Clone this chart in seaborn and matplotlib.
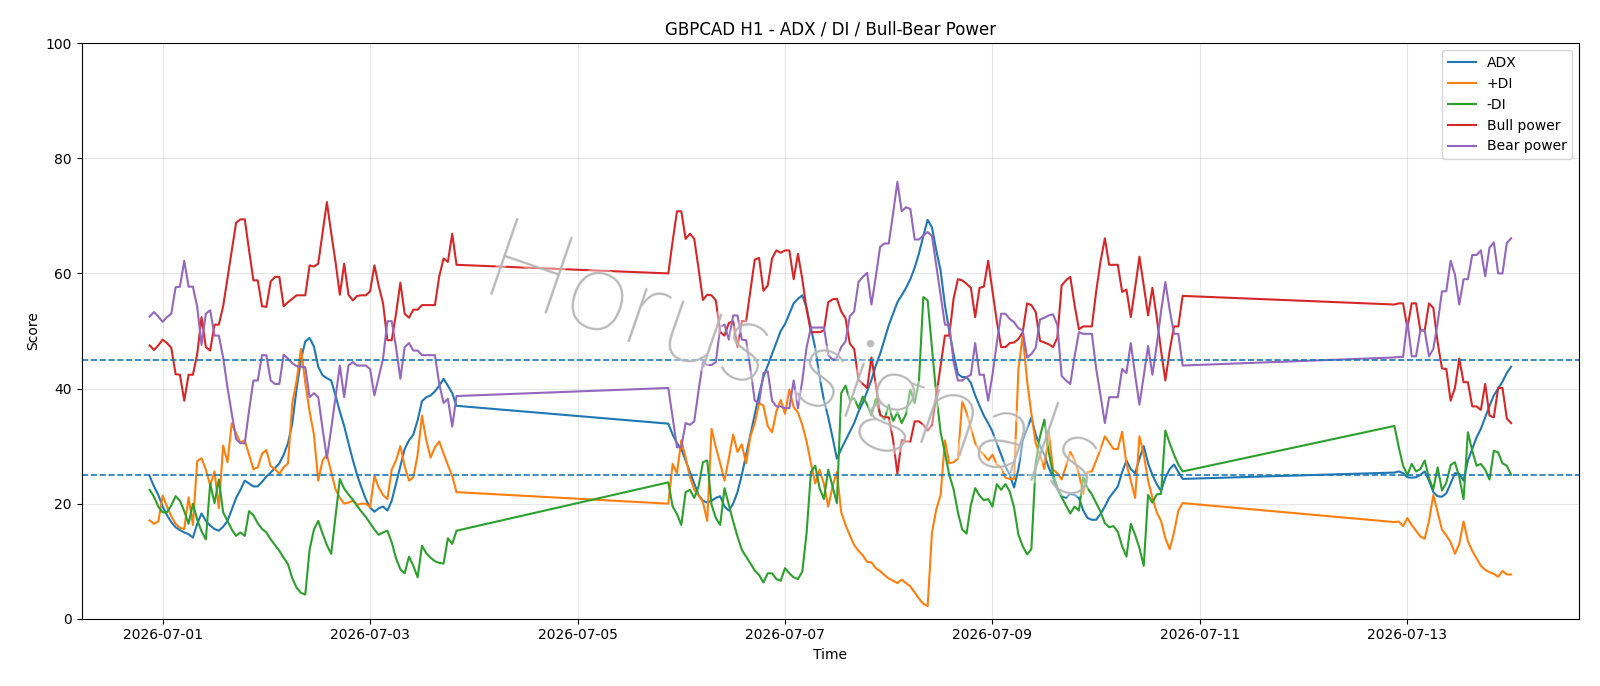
import numpy as np
import pandas as pd
import matplotlib
matplotlib.use("Agg")
import matplotlib.pyplot as plt
import matplotlib.dates as mdates
import matplotlib.patheffects as pe
import seaborn as sns

# ---- data: three hourly trading segments ----
seg_starts = ["2026-06-30 21:00", "2026-07-05 21:00", "2026-07-12 21:00"]
seg_lengths = [72, 120, 28]

adx_1 = [24.8, 23, 21.5, 19.5, 18, 16.8, 15.9, 15.4, 15.0, 14.7, 14.1,
         16.5, 18.3, 17, 16.2, 15.6, 15.3, 16, 17, 19, 21, 22.4, 24,
         23.5, 23, 23, 23.8, 24.7, 25.4, 26.2, 27, 28.5, 30.5,
         34, 40, 45, 48.2, 48.8, 47.3, 43.8, 42.3, 41.8, 41.4,
         38.8, 36, 33.5, 30.5, 27.6, 25, 22.8, 20.8, 19.3, 18.6,
         19.2, 19.5, 18.8, 20.5, 23.5, 26.5, 29.5, 31, 32, 34.5,
         37.8, 38.5, 38.8, 39.5, 40.5, 41.7, 40.5, 39.2, 37]
pdi_1 = [17.1, 16.5, 16.9, 21.4, 19.5, 17.8, 16.5, 15.8, 15.6, 21.1, 16.3,
         27.4, 27.9, 25.9, 23.2, 25.6, 19.2, 30.1, 27.2, 34, 32.2, 30.6, 31,
         28.5, 26, 26.3, 28.7, 29.3, 26.5, 26, 25.2, 26.3, 27,
         37.5, 41.4, 46.9, 41, 36, 32, 24, 27.5, 28.5, 25.5,
         22.5, 21, 20, 20.2, 20.5, 19.8, 20, 20, 19.4, 24.8,
         22.8, 21.5, 20.8, 25.9, 27.5, 30, 26.5, 24, 24.6, 28.5,
         35.3, 31, 28, 29.8, 30.8, 28.7, 26.7, 24.8, 22]
mdi_1 = [22.4, 21.2, 19.5, 18.5, 18.5, 19.7, 21.3, 20.5, 18.7, 16.5, 20,
         17.2, 15.2, 13.8, 23.5, 20.1, 24.2, 18.5, 17, 15.5, 14.4, 15, 14.4,
         18.7, 18, 16.6, 15.6, 15, 13.8, 12.8, 11.8, 10.6, 9.5,
         7, 5.4, 4.5, 4.2, 12, 15.5, 17, 14.8, 12.8, 11.3,
         17.8, 24.3, 22.6, 21.6, 20.7, 19.6, 18.6, 17.7, 16.6, 15.5,
         14.6, 15, 15.3, 13.3, 10.5, 8.6, 7.9, 10.8, 9.2, 7.2,
         12.7, 11.4, 10.6, 10, 9.7, 9.6, 14, 13, 15.3]
bull_1 = [47.5, 46.7, 47.5, 48.5, 47.9, 47.1, 42.5, 42.4, 37.9, 42.4, 42.4,
          46, 52.4, 47.2, 46.6, 51.1, 51.1, 54.3, 59.2, 64, 68.8, 69.4, 69.4,
          64, 58.8, 58.8, 54.3, 54.2, 58.6, 59.4, 59.4, 54.3, 55,
          55.6, 56.2, 56.2, 56.2, 61.4, 61.2, 61.7, 67, 72.4, 67,
          62, 56.3, 61.7, 56.3, 55.3, 56.1, 56.2, 56.2, 56.9, 61.4,
          57.8, 54.8, 48.4, 48.4, 53, 58.4, 53, 52.3, 53.7, 53.7,
          54.5, 54.5, 54.5, 54.5, 59.5, 62.6, 62, 66.9, 61.5]
bear_1 = [52.5, 53.3, 52.5, 51.6, 52.4, 53, 57.6, 57.7, 62.2, 57.7, 57.7,
          54.2, 47.6, 53, 53.6, 49.2, 49.2, 45.4, 40.2, 35.6, 31.2, 30.5, 30.5,
          36.2, 41.4, 41.4, 45.8, 45.8, 41.4, 40.8, 40.8, 45.9, 45.2,
          44.4, 43.9, 43.8, 43.7, 38.5, 39.2, 38.5, 33, 27.9, 33,
          38.5, 44, 38.5, 44, 44.6, 44, 44, 44, 43.4, 38.8,
          42, 45.2, 51.7, 51.7, 47.2, 41.7, 47.2, 47.9, 46.6, 46.6,
          45.8, 45.8, 45.8, 45.8, 40.8, 37.5, 38.2, 33.4, 38.7]

adx_2 = [33.9, 32, 30.5, 29.5, 27.5, 25.5, 23.5, 21.5, 20.5, 20.2,
         20.5, 21, 21.3, 19.5, 18.8, 20, 22, 25, 28.5, 32,
         35.5, 39, 42, 44, 46, 48, 50, 51.2, 53, 54.8,
         55.6, 56.2, 54, 50.5, 47, 42, 38, 35, 31.5, 27.8,
         29.5, 31, 32.5, 34, 36, 37.5, 39.5, 41.5, 44, 46,
         48.5, 51, 53, 55, 56.2, 57.5, 59, 61, 63.5, 66.5,
         69.3, 68, 64, 60.5, 54.5, 50, 46, 42.5, 42, 42,
         41, 38.8, 37, 35.3, 34, 32.5, 30.5, 28.5, 26.5, 25,
         22.8, 26, 31, 33, 35, 32, 30, 28.5, 26.3, 24.5,
         22.5, 21.3, 21, 21.7, 21.5, 21, 18.8, 17.5, 17.2, 17.2,
         18.2, 19.5, 21, 22, 23, 25.5, 27.5, 26, 25.3, 27.8,
         30, 27, 25, 23.4, 22.2, 24.5, 26, 26.8, 25.5, 24.3]
pdi_2 = [20, 26.9, 25.3, 31, 28, 24.6, 22.4, 21.4, 20.3, 17,
         33, 29.8, 27, 24, 27.9, 32, 29, 30.3, 27, 31.7,
         34, 37.5, 37, 33.5, 32.4, 36, 38, 35.6, 39.8, 36.8,
         35.8, 33.7, 30.8, 27, 23.5, 25.9, 23.4, 19.5, 23, 25.5,
         18.5, 16.3, 14.5, 12.8, 11.8, 11, 9.9, 9.8, 8.8, 8.3,
         7.6, 7, 6.6, 6.2, 6.8, 6.2, 5.6, 4.6, 3.5, 2.6,
         2.2, 15, 19, 21.5, 31, 27, 27.2, 27.8, 37.8, 35.8,
         33.2, 30.5, 29.2, 28.5, 27.5, 28.5, 26.8, 26.3, 24.5, 24.3,
         24.3, 43.4, 49.2, 41.4, 35.6, 30.5, 28.5, 26, 32.7, 25.9,
         25.3, 24.2, 26.5, 29, 27.5, 25.2, 21.7, 25.5, 25.6, 27.5,
         29.5, 31.7, 30.6, 29.5, 29.5, 32.5, 26.9, 24, 21, 31.7,
         28.5, 24, 21, 18.5, 17, 14, 12.1, 15, 18.8, 20.1]
mdi_2 = [23.7, 19.5, 18.2, 16.3, 22, 22.4, 21, 23, 27.2, 27.5,
         19.8, 17.5, 16.3, 22.7, 19.8, 16.9, 14.3, 12, 10.8, 9.6,
         8.4, 7.6, 6.3, 7.9, 7.9, 6.9, 6.6, 8.8, 7.9, 7.2,
         6.9, 8.2, 15, 25.5, 26.6, 22.7, 20.8, 25.9, 23, 20.1,
         39.2, 40.5, 38, 38.3, 36.6, 38.6, 37.2, 35.3, 38.2, 35.6,
         34.6, 37.2, 34.3, 35.9, 34, 35.6, 39.8, 37.5, 41.4, 55.9,
         55.3, 47, 39, 32.4, 28.8, 25, 22.5, 18.5, 15.5, 14.8,
         19.8, 22.7, 21.4, 20.6, 20.8, 19.5, 23.4, 22.4, 23.4, 22.1,
         19.3, 14.6, 12.6, 11.2, 12.1, 27, 31.7, 34.6, 29, 25.2,
         22.8, 21.1, 19.7, 18.3, 19.5, 18.8, 24.6, 22.7, 21.6, 20.1,
         18.6, 16.6, 15.9, 16.1, 15.1, 12.6, 10.8, 16.5, 14.6, 12.3,
         9.2, 21.5, 20.2, 21.6, 21.7, 32.7, 30.5, 28.5, 26.8, 25.6]
bull_2 = [60, 65.6, 70.8, 70.8, 66, 66.9, 66, 60.8, 55.4, 56.3,
          56.2, 55.3, 49.8, 49.2, 51.4, 51.7, 47.2, 51.7, 51.7, 57,
          62.4, 62.7, 57, 57.9, 62.6, 64, 63.6, 64, 64, 59,
          63.4, 59, 53.7, 49.8, 49.8, 49.8, 50.1, 55, 55.5, 55.6,
          53.4, 52.2, 47.8, 46.9, 41.5, 40.8, 40.1, 45.4, 40.7, 35.3,
          35, 35, 31.1, 25.2, 31.1, 30.8, 30.8, 34.3, 34.3, 33.7,
          32.7, 33.7, 38.7, 44, 49.2, 49.2, 55.6, 59, 58.8, 58.2,
          57.5, 52.4, 57.5, 57.7, 62.2, 56.9, 51.7, 47.2, 47.2, 47.9,
          48, 48.6, 49.8, 54.8, 54.5, 53.3, 48.3, 48, 47.7, 47.2,
          48.8, 57.9, 58.8, 59.4, 54.5, 50.3, 50.8, 50.8, 50.8, 56.9,
          62.1, 66.1, 61.5, 61.5, 61.5, 56.8, 57.2, 52.4, 57.5, 62.9,
          57.9, 52.7, 57.5, 52.4, 46.6, 41.4, 46.6, 50.8, 50.8, 56.1]
bear_2 = [40.1, 35, 29.8, 29.8, 34, 33.7, 34.3, 39.7, 44.6, 44.1,
          44.1, 44.6, 50.8, 51.1, 48.5, 52.7, 52.7, 48.5, 48.4, 43.4,
          37.9, 37.5, 42.7, 43, 37.9, 36.9, 36.9, 36.6, 36.6, 41.4,
          36.6, 41.4, 47.2, 50.6, 50.6, 50.6, 50.6, 45.9, 45, 45.3,
          47.2, 48.2, 52.6, 53.4, 58.5, 59.4, 60.1, 54.6, 59.4, 64.6,
          65.2, 65.2, 70.4, 75.9, 70.8, 71.5, 71.2, 65.9, 65.9, 66.6,
          67.2, 66.5, 61.4, 56.3, 51.1, 51.1, 44.6, 41.4, 41.4, 42,
          42.4, 47.9, 42.4, 42.4, 37.9, 42.4, 47.9, 53, 53, 52.1,
          51.5, 50.5, 50.1, 45.4, 46, 47.1, 52, 52.3, 52.7, 52.9,
          51.1, 42.2, 41.4, 40.8, 45.6, 49.8, 49.5, 49.5, 49.5, 43.4,
          38.8, 34, 38.5, 38.5, 38.5, 43.4, 42.7, 47.9, 42.4, 37.2,
          42.2, 47.4, 42.4, 47.5, 53.4, 58.5, 53.7, 49.5, 49.5, 44]

adx_3 = [25.4, 25.6, 25.3, 24.6, 24.5, 24.6, 25, 25.6, 24, 22, 21.3, 21.2,
         21.8, 23.5, 25.3, 25.2, 24, 27.5, 29.5, 31.5, 33, 35, 37, 38.8,
         40, 41.2, 42.7, 43.8]
pdi_3 = [16.8, 16.9, 16.1, 17.5, 16.3, 15.3, 14.3, 13.9, 17, 21.5, 18.5, 15.5,
         14.5, 13.3, 11.3, 13, 16.9, 13.5, 11.8, 10.5, 9.2, 8.5, 8.1, 7.8,
         7.3, 8.3, 7.7, 7.7]
mdi_3 = [33.5, 29.8, 26.6, 25, 26.9, 25.6, 26, 27.5, 24.4, 22.5, 26.3, 22.3,
         23.6, 26.7, 27.2, 24.6, 20.8, 32.4, 29.2, 26.6, 26.9, 25.9, 24.2, 29.2,
         28.9, 27, 26.6, 25]
bull_3 = [54.6, 54.8, 54.8, 50.5, 54.8, 54.8, 50.1, 50.1, 54.8, 54, 48, 43.5,
          43.4, 37.9, 40.1, 45.2, 41.1, 41.1, 36.9, 36.9, 36.3, 40.8, 35.3, 35,
          40.1, 40.1, 34.8, 34]
bear_3 = [45.4, 45.5, 45.5, 51.7, 45.6, 45.6, 50.1, 50.1, 45.6, 46.9, 51.4, 56.9,
          56.9, 62.2, 59.8, 54.6, 59, 59, 63.2, 63.2, 64, 59.5, 64.5, 65.4,
          60, 60, 65.3, 66.1]

series_names = ["ADX", "+DI", "-DI", "Bull power", "Bear power"]
thresholds = [25, 45]

# ---- build table ----
times = pd.DatetimeIndex(np.concatenate([
    pd.date_range(s, periods=n, freq="h").values for s, n in zip(seg_starts, seg_lengths)
]))
df = pd.DataFrame({
    "time": times,
    "ADX": adx_1 + adx_2 + adx_3,
    "+DI": pdi_1 + pdi_2 + pdi_3,
    "-DI": mdi_1 + mdi_2 + mdi_3,
    "Bull power": bull_1 + bull_2 + bull_3,
    "Bear power": bear_1 + bear_2 + bear_3,
})

fig, ax = plt.subplots(figsize=(16, 6.86), dpi=100)
colors = sns.color_palette("tab10", 5)
for name, c in zip(series_names, colors):
    sns.lineplot(data=df, x="time", y=name, ax=ax, color=c, label=name,
                 linewidth=1.5, estimator=None)

for t in thresholds:
    ax.axhline(t, color=colors[0], linestyle="--", linewidth=1.2)

ax.set_ylim(0, 100)
ax.set_title("GBPCAD H1 - ADX / DI / Bull-Bear Power")
ax.set_xlabel("Time")
ax.set_ylabel("Score")
ax.grid(True, alpha=0.3)
ax.xaxis.set_major_locator(mdates.DayLocator(interval=2))
ax.xaxis.set_major_formatter(mdates.DateFormatter("%Y-%m-%d"))
ax.legend(loc="upper right")

ax.text(0.475, 0.44, "Horus signals", transform=ax.transAxes, ha="center",
        va="center", rotation=-19, fontsize=82, color="#b4b4b4", alpha=0.6,
        family="Lato", fontweight="light", zorder=5,
        path_effects=[pe.Stroke(linewidth=6, foreground="white", alpha=0.4),
                      pe.Stroke(linewidth=1.0, foreground="#b4b4b4"),
                      pe.Normal()])

fig.subplots_adjust(left=0.051, right=0.987, top=0.937, bottom=0.098)
fig.savefig("out.png", dpi=100)
